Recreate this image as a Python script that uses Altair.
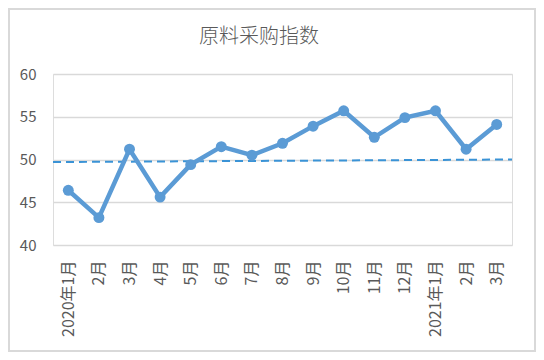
import altair as alt
import pandas as pd

months = ["2020年1月", "2月", "3月", "4月", "5月", "6月", "7月", "8月", "9月",
          "10月", "11月", "12月", "2021年1月", "2月 ", "3月 "]
values = [46.4, 43.2, 51.2, 45.6, 49.4, 51.5, 50.5, 51.9, 53.9,
          55.7, 52.6, 54.9, 55.7, 51.2, 54.1]
trend_start, trend_end = 49.7, 50.0
title_text = "原料采购指数"
y_ticks = [40, 45, 50, 55, 60]

W, H = 459, 171
TXT = "#595959"
FONT = "Noto Sans CJK SC"

df = pd.DataFrame({"month": months, "value": values})

x_enc = alt.X("month:N", sort=months, title=None,
              scale=alt.Scale(paddingInner=0, paddingOuter=0.0, align=0.5),
              axis=alt.Axis(labelAngle=-90, labelFontSize=16, labelColor=TXT,
                            labelFont=FONT, ticks=False, domain=False,
                            labelPadding=15, grid=False))
y_scale = alt.Scale(domain=[40, 60], nice=False, zero=False)
y_enc = alt.Y("value:Q", scale=y_scale, title=None,
              axis=alt.Axis(values=y_ticks, labelFontSize=15, labelColor=TXT,
                            labelFont=FONT, ticks=False, domain=False,
                            labelPadding=17, gridColor="#D9D9D9", gridWidth=1.5))

base = alt.Chart(df)
line = base.mark_line(color="#5B9BD5", strokeWidth=4.5).encode(x=x_enc, y=y_enc)
pts = base.mark_circle(color="#5B9BD5", size=120, opacity=1).encode(x=x_enc, y=y_enc)

trend = alt.Chart(pd.DataFrame({"a": [trend_start], "b": [trend_end]})).mark_rule(
    color="#3A93D6", strokeWidth=2, strokeDash=[8, 5]
).encode(
    x=alt.value(0), x2=alt.value(W),
    y=alt.Y("a:Q", scale=y_scale), y2="b:Q",
)

title = alt.Chart(pd.DataFrame({"t": [title_text]})).mark_text(
    fontSize=20, color=TXT, font=FONT, fontWeight=300, baseline="middle", align="center"
).encode(text="t:N", x=alt.value(206), y=alt.value(-37))

border = alt.Chart(pd.DataFrame({"d": [0]})).mark_rect(
    fill=None, stroke="#D9D9D9", strokeWidth=2
).encode(x=alt.value(-44), x2=alt.value(482), y=alt.value(-65), y2=alt.value(277))

chart = alt.layer(border, trend, line, pts, title).properties(
    width=W, height=H,
    padding={"left": 45, "top": 66, "right": 24, "bottom": 107},
    autosize=alt.AutoSizeParams(type="none"),
).configure_view(stroke=None).configure(background="white")

chart.save("out.html", embed_options={"renderer": "svg", "actions": False})
